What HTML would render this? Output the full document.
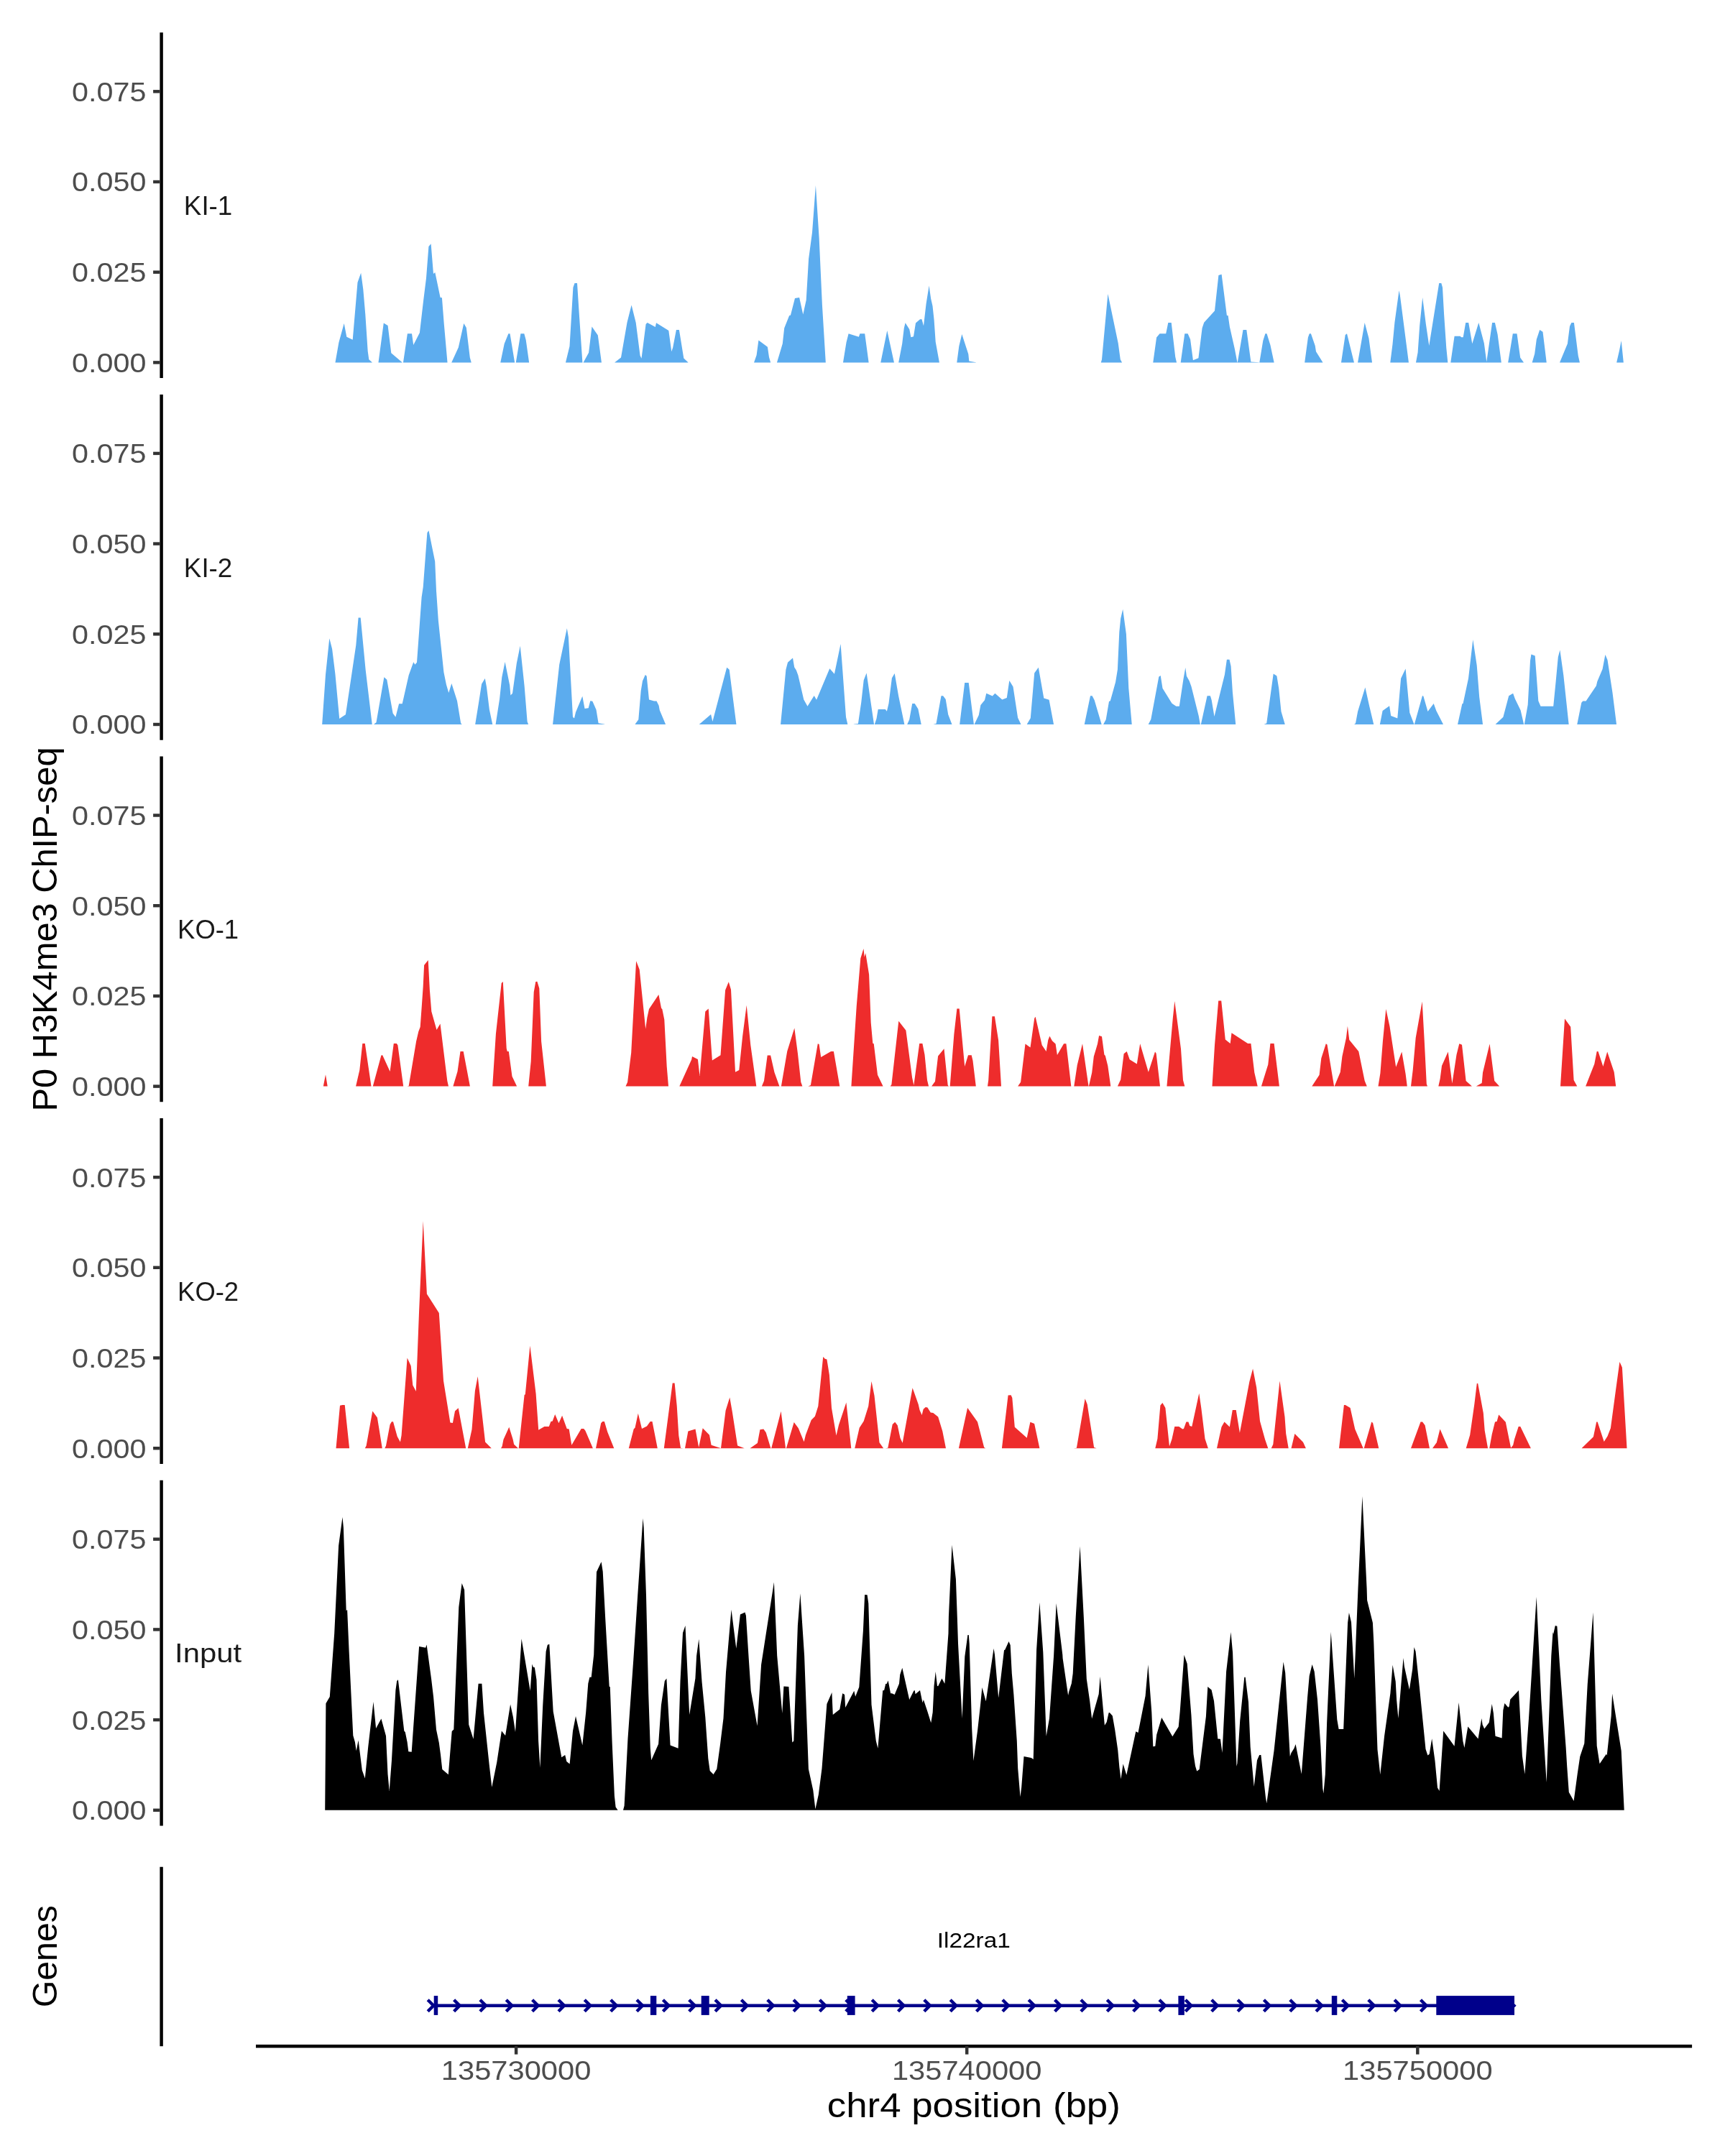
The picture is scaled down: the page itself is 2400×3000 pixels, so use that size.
<!DOCTYPE html>
<html lang="en"><head><meta charset="utf-8"><title>P0 H3K4me3 ChIP-seq – chr4 Il22ra1</title>
<style>
html,body{margin:0;padding:0;background:#fff;}
body{width:2400px;height:3000px;overflow:hidden;font-family:"Liberation Sans",sans-serif;}
svg{display:block;will-change:transform;}
text{font-family:"Liberation Sans",sans-serif;}
.tk{fill:#4D4D4D;font-size:37.8px;}
.st{fill:#1A1A1A;font-size:36.5px;}
.ti{fill:#000;font-size:48px;}
.gn{fill:#000;font-size:28.8px;}
.ax{stroke:#000;stroke-width:4.45;fill:none;}
.tc{stroke:#333;stroke-width:4.45;fill:none;}
</style></head><body>
<svg width="2400" height="3000" viewBox="0 0 2400 3000">
<rect width="2400" height="3000" fill="#fff"/>
<g id="track-KI-1">
<path fill="#5CACEE" d="M466.5,504.3L471.4,476.5L478.7,449.9L482.3,468.7L490.7,472.7L497.5,393.0L502.2,379.7L505.3,402.6L508.3,437.4L511.7,488.7L513.3,500.3L517.8,504.3L517.8,504.4L466.5,504.4ZM526.5,504.3L533.8,449.6L539.6,453.0L544.3,491.3L559.6,504.3L559.6,504.4L526.5,504.4ZM561.0,504.3L566.9,464.2L573.0,464.2L575.2,480.0L583.9,463.1L589.1,418.3L593.0,387.0L596.4,343.1L599.6,339.3L603.0,380.9L605.3,379.1L612.6,413.9L614.9,414.3L617.8,451.3L622.5,504.3L622.5,504.4L561.0,504.4ZM628.3,504.3L637.8,483.5L645.3,449.9L648.8,456.0L651.7,480.0L653.8,497.4L655.7,504.3L655.7,504.4L628.3,504.4ZM696.3,504.3L701.7,478.3L707.4,464.3L709.5,464.3L716.1,504.3L716.1,504.4L696.3,504.4ZM717.8,504.3L724.4,464.2L729.3,464.2L731.7,473.0L736.1,504.3L736.1,504.4L717.8,504.4ZM787.0,504.3L792.5,481.7L797.4,400.0L799.5,394.1L803.0,394.1L805.7,435.7L810.4,504.3L810.4,504.4L787.0,504.4ZM811.7,504.3L819.1,490.8L823.5,454.4L831.8,466.4L836.9,504.3L836.9,504.4L811.7,504.4ZM855.3,504.3L864.0,497.4L872.5,448.7L878.6,424.5L884.7,449.0L890.6,494.8L892.5,498.8L898.6,451.0L900.7,449.0L911.8,455.1L913.0,449.2L930.3,460.0L934.3,489.2L936.2,483.5L940.9,459.1L944.9,459.1L951.3,498.6L957.4,504.3L957.4,504.4L855.3,504.4ZM1049.1,504.3L1052.6,494.3L1055.4,473.6L1067.9,482.8L1070.0,496.9L1072.1,504.3L1072.1,504.4L1049.1,504.4ZM1081.0,504.3L1088.8,478.3L1091.2,456.5L1098.2,439.1L1099.9,438.8L1106.0,415.1L1112.1,413.9L1117.3,437.4L1121.7,417.4L1125.1,360.0L1130.0,323.5L1134.9,257.9L1139.6,330.4L1143.9,424.3L1148.8,504.3L1148.8,504.4L1081.0,504.4ZM1173.0,504.3L1177.5,476.5L1180.6,464.3L1194.9,468.7L1196.4,464.3L1203.2,464.3L1208.6,504.3L1208.6,504.4L1173.0,504.4ZM1225.3,504.3L1234.3,460.0L1243.9,504.3L1243.9,504.4L1225.3,504.4ZM1250.2,504.3L1255.2,478.3L1257.8,456.5L1259.6,449.2L1265.3,458.3L1267.4,469.2L1271.0,468.2L1274.0,449.6L1280.1,444.3L1282.5,444.3L1285.0,453.6L1288.6,422.6L1292.6,397.4L1295.2,415.7L1297.5,425.7L1299.6,445.2L1301.7,475.7L1306.9,504.3L1306.9,504.4L1250.2,504.4ZM1331.3,504.3L1334.3,481.7L1338.3,464.9L1347.3,492.7L1348.3,502.6L1357.9,504.3L1357.9,504.4L1331.3,504.4ZM1531.8,504.3L1533.0,500.3L1541.4,409.0L1555.7,477.4L1558.8,500.3L1561.0,504.3L1561.0,504.4L1531.8,504.4ZM1604.3,504.3L1609.1,469.6L1613.5,464.2L1622.2,464.2L1625.3,449.0L1629.7,449.0L1635.2,496.5L1637.0,504.3L1637.0,504.4L1604.3,504.4ZM1642.7,504.3L1648.3,464.2L1652.6,464.2L1656.1,472.2L1659.9,501.2L1667.4,498.3L1672.6,456.5L1675.2,448.7L1690.0,432.5L1695.4,383.1L1699.6,381.7L1706.9,439.1L1708.6,439.1L1710.9,454.8L1717.8,485.2L1721.3,503.5L1721.7,504.3L1721.7,504.4L1642.7,504.4ZM1721.8,504.3L1729.5,459.1L1734.3,459.1L1740.4,503.5L1751.7,504.3L1751.7,504.4L1721.8,504.4ZM1752.3,504.3L1757.3,473.9L1760.4,464.3L1762.5,464.3L1767.4,480.0L1772.6,504.3L1772.6,504.4L1752.3,504.4ZM1815.2,504.3L1819.9,469.6L1821.8,464.3L1823.9,464.3L1829.7,480.9L1831.0,489.2L1840.4,504.3L1840.4,504.4L1815.2,504.4ZM1866.0,504.3L1871.7,466.1L1874.0,464.2L1883.9,504.3L1883.9,504.4L1866.0,504.4ZM1889.1,504.3L1898.7,449.0L1904.4,470.4L1909.0,504.3L1909.0,504.4L1889.1,504.4ZM1934.3,504.3L1937.5,479.1L1940.4,448.7L1946.5,404.3L1947.9,411.3L1959.9,504.3L1959.9,504.4L1934.3,504.4ZM1970.0,504.3L1972.6,490.4L1975.2,453.0L1979.2,413.9L1983.9,451.3L1988.3,480.9L2002.2,394.1L2005.3,394.1L2007.0,400.0L2009.1,437.4L2012.3,484.3L2014.3,504.3L2014.3,504.4L1970.0,504.4ZM2018.3,504.3L2023.6,467.8L2031.7,467.8L2033.0,469.2L2035.7,469.2L2039.2,449.0L2043.2,449.0L2048.3,478.3L2057.3,449.0L2064.8,477.4L2068.3,503.5L2076.1,449.0L2079.9,449.0L2083.6,465.2L2088.8,504.3L2088.8,504.4L2018.3,504.4ZM2098.2,504.3L2104.8,464.2L2110.5,464.2L2115.2,497.7L2119.9,504.3L2119.9,504.4L2098.2,504.4ZM2131.7,504.3L2135.2,492.2L2137.8,472.2L2142.2,459.1L2146.5,461.7L2151.7,504.3L2151.7,504.4L2131.7,504.4ZM2170.1,504.3L2180.9,478.3L2184.0,453.9L2186.4,449.0L2189.9,449.0L2192.2,467.0L2195.7,494.8L2197.9,504.3L2197.9,504.4L2170.1,504.4ZM2249.2,504.3L2253.0,487.8L2255.7,473.9L2258.8,504.3L2258.8,504.4L2249.2,504.4Z"/>
</g>
<g id="track-KI-2">
<path fill="#5CACEE" d="M448.2,1007.7L453.0,938.7L458.3,888.3L462.1,903.0L466.4,937.8L472.2,1000.1L480.9,994.3L487.8,948.3L495.3,897.8L498.6,859.6L501.7,859.6L508.7,932.6L517.7,1007.7L517.7,1008.0L448.2,1008.0ZM520.3,1007.7L523.5,1005.3L534.4,942.2L538.3,945.7L546.6,992.6L550.4,997.8L555.1,979.2L559.7,979.2L568.7,939.6L575.3,921.3L577.4,924.8L580.0,921.8L586.6,830.9L588.7,817.0L594.4,741.3L596.5,738.3L605.2,781.3L607.0,822.2L609.9,863.9L617.4,935.2L620.9,952.6L624.3,963.9L628.3,950.9L636.0,975.2L641.2,1006.5L642.6,1007.7L642.6,1008.0L520.3,1008.0ZM661.2,1007.7L665.6,980.4L670.1,951.7L674.8,943.9L677.0,956.1L680.9,987.4L685.2,1007.7L685.2,1008.0L661.2,1008.0ZM689.6,1007.7L695.1,972.6L698.3,942.2L702.6,921.0L709.2,953.5L710.4,967.4L713.0,964.8L718.8,923.0L723.7,898.7L729.6,954.3L733.6,1003.9L735.0,1007.7L735.0,1008.0L689.6,1008.0ZM769.1,1007.7L778.2,924.8L788.8,874.3L790.9,886.5L797.0,997.8L799.0,999.6L801.0,990.9L810.3,968.8L813.5,986.0L818.7,985.3L821.3,975.2L824.3,975.7L829.5,987.4L832.6,1006.2L841.3,1007.7L841.3,1008.0L769.1,1008.0ZM883.6,1007.7L888.3,1001.3L891.7,961.3L894.0,947.4L897.8,939.0L899.7,940.8L903.0,973.5L910.0,975.6L913.5,975.6L916.6,981.8L917.8,988.3L926.0,1007.7L926.0,1008.0L883.6,1008.0ZM973.0,1007.7L989.1,994.0L991.4,1003.9L1011.2,928.8L1014.7,931.7L1024.4,1007.7L1024.4,1008.0L973.0,1008.0ZM1086.1,1007.7L1093.4,931.7L1096.0,921.7L1103.0,915.6L1105.2,928.6L1107.8,932.6L1110.4,939.6L1118.3,973.5L1123.5,982.7L1132.7,967.9L1136.0,973.8L1154.3,930.3L1160.9,937.8L1169.6,896.1L1171.7,924.8L1177.0,997.8L1179.3,1007.7L1179.3,1008.0L1086.1,1008.0ZM1187.8,1007.7L1193.9,1006.9L1198.3,977.0L1201.7,946.5L1205.6,936.4L1216.0,1007.7L1216.0,1008.0L1187.8,1008.0ZM1216.9,1007.7L1219.5,999.9L1221.7,987.0L1231.8,987.0L1233.9,989.7L1236.5,978.7L1240.9,943.6L1244.7,937.0L1250.1,968.3L1258.3,1007.7L1258.3,1008.0L1216.9,1008.0ZM1262.3,1007.7L1265.2,1001.3L1269.2,979.0L1272.7,979.0L1277.4,986.5L1281.7,1007.7L1281.7,1008.0L1262.3,1008.0ZM1299.0,1007.7L1302.5,1006.9L1309.5,968.3L1312.1,968.3L1315.7,973.1L1319.2,994.3L1324.4,1007.7L1324.4,1008.0L1299.0,1008.0ZM1335.2,1007.7L1342.2,950.0L1347.7,950.0L1354.9,1007.7L1354.9,1008.0L1335.2,1008.0ZM1355.7,1007.7L1361.8,994.9L1364.4,981.0L1370.0,974.3L1372.3,964.8L1380.8,968.6L1384.4,964.8L1394.3,973.5L1400.8,970.9L1404.3,946.9L1409.5,955.6L1416.1,998.7L1420.4,1007.7L1420.4,1008.0L1355.7,1008.0ZM1428.8,1007.7L1433.8,999.2L1439.2,936.4L1444.8,928.8L1452.3,971.4L1459.6,973.8L1466.0,1007.7L1466.0,1008.0L1428.8,1008.0ZM1508.8,1007.7L1517.0,968.3L1519.6,968.3L1522.7,974.3L1532.6,1007.7L1532.6,1008.0L1508.8,1008.0ZM1535.2,1007.7L1538.7,1001.3L1543.0,976.1L1544.8,975.2L1552.1,949.1L1554.9,931.7L1557.3,879.6L1559.2,860.4L1562.2,847.7L1566.9,882.2L1570.3,957.8L1574.7,1007.7L1574.7,1008.0L1535.2,1008.0ZM1597.8,1007.7L1601.3,1001.0L1612.3,941.7L1614.7,939.9L1617.5,957.8L1630.5,978.7L1636.4,982.7L1640.8,982.7L1646.5,944.8L1649.3,929.1L1650.9,940.8L1654.7,947.4L1657.5,955.2L1667.7,996.1L1669.8,1007.7L1669.8,1008.0L1597.8,1008.0ZM1670.9,1007.7L1679.6,968.3L1683.9,968.3L1685.7,974.3L1689.5,997.0L1703.9,938.7L1706.9,917.8L1710.5,917.8L1712.6,926.9L1714.9,963.0L1719.2,1007.7L1719.2,1008.0L1670.9,1008.0ZM1759.0,1007.7L1762.2,1006.5L1771.7,937.5L1776.4,940.4L1779.2,957.8L1782.5,990.0L1787.7,1007.7L1787.7,1008.0L1759.0,1008.0ZM1884.3,1007.7L1886.0,1006.5L1889.1,990.0L1899.4,956.6L1905.3,983.0L1911.2,1007.7L1911.2,1008.0L1884.3,1008.0ZM1919.9,1007.7L1923.6,989.1L1933.1,982.2L1935.2,996.1L1944.3,999.6L1949.1,943.9L1955.6,930.5L1961.3,991.7L1967.4,1007.7L1967.4,1008.0L1919.9,1008.0ZM1967.9,1007.7L1979.0,967.9L1980.4,968.8L1986.5,990.0L1994.7,979.0L1998.3,989.1L2007.9,1007.7L2007.9,1008.0L1967.9,1008.0ZM2028.1,1007.7L2034.3,979.6L2035.6,978.7L2043.0,943.9L2049.3,890.0L2054.7,925.7L2058.2,970.0L2063.0,1007.7L2063.0,1008.0L2028.1,1008.0ZM2080.8,1007.7L2091.4,997.8L2099.2,968.3L2105.1,964.8L2107.9,972.6L2115.6,988.3L2120.1,1007.7L2120.1,1008.0L2080.8,1008.0ZM2120.9,1007.7L2125.7,980.4L2129.0,919.6L2130.4,910.5L2135.7,912.6L2140.3,975.2L2143.5,982.7L2161.2,982.7L2164.7,947.4L2167.8,914.3L2170.4,904.4L2175.3,939.6L2182.6,1007.7L2182.6,1008.0L2120.9,1008.0ZM2194.3,1007.7L2200.3,977.8L2202.3,975.6L2206.6,975.6L2220.9,954.3L2222.3,948.3L2229.6,930.9L2233.4,910.9L2236.5,918.2L2243.5,963.9L2249.0,1007.7L2249.0,1008.0L2194.3,1008.0Z"/>
</g>
<g id="track-KO-1">
<path fill="#EE2C2C" d="M449.9,1511.6L450.1,1510.0L453.0,1495.2L455.7,1511.6L455.7,1511.6L449.9,1511.6ZM495.1,1511.6L500.3,1489.1L504.3,1452.1L507.8,1452.1L516.5,1511.6L516.5,1511.6L495.1,1511.6ZM518.8,1511.6L530.4,1468.6L532.2,1468.3L542.6,1490.9L547.8,1452.1L551.8,1452.1L553.4,1454.3L561.2,1511.6L561.2,1511.6L518.8,1511.6ZM566.4,1511.6L568.7,1510.9L579.1,1449.1L582.3,1435.2L584.7,1429.1L587.0,1397.0L588.7,1372.6L590.1,1343.0L595.7,1336.1L597.9,1377.8L600.3,1407.4L607.5,1433.1L612.5,1424.4L622.3,1503.9L624.0,1511.6L624.0,1511.6L566.4,1511.6ZM630.4,1511.6L636.5,1490.9L640.5,1463.0L644.7,1463.0L653.9,1511.6L653.9,1511.6L630.4,1511.6ZM685.2,1511.6L689.9,1438.7L697.7,1367.9L699.8,1366.0L704.7,1458.7L705.7,1463.0L707.8,1463.0L712.5,1497.8L719.1,1511.6L719.1,1511.6L685.2,1511.6ZM735.2,1511.6L738.7,1477.0L742.7,1380.4L745.3,1366.0L747.4,1365.7L750.3,1375.2L753.1,1449.1L759.9,1511.6L759.9,1511.6L735.2,1511.6ZM870.5,1511.6L873.1,1505.7L878.2,1464.8L885.1,1337.3L889.7,1349.1L898.2,1431.7L900.4,1416.1L903.0,1403.9L916.4,1383.9L920.1,1403.0L921.3,1403.9L924.3,1418.7L927.7,1483.9L930.0,1511.6L930.0,1511.6L870.5,1511.6ZM945.3,1511.6L962.2,1474.3L963.0,1470.0L970.9,1474.0L973.5,1497.0L981.3,1407.4L985.7,1403.6L990.9,1475.6L1002.5,1468.3L1009.1,1377.8L1013.8,1366.2L1017.0,1377.0L1023.0,1491.7L1028.3,1489.1L1033.1,1442.2L1038.7,1398.7L1044.3,1454.3L1052.3,1511.6L1052.3,1511.6L945.3,1511.6ZM1059.9,1511.6L1063.0,1503.9L1067.7,1468.6L1072.1,1468.6L1077.5,1492.3L1084.4,1511.6L1084.4,1511.6L1059.9,1511.6ZM1086.9,1511.6L1095.2,1463.0L1105.3,1430.5L1110.0,1466.5L1114.3,1505.7L1116.4,1511.6L1116.4,1511.6L1086.9,1511.6ZM1124.4,1511.6L1127.9,1510.0L1137.8,1452.3L1139.6,1453.0L1142.2,1470.9L1156.1,1463.0L1159.9,1463.0L1168.3,1511.6L1168.3,1511.6L1124.4,1511.6ZM1184.4,1511.6L1191.7,1400.4L1197.3,1333.5L1201.5,1319.9L1202.7,1331.7L1204.3,1326.2L1209.1,1356.1L1211.7,1423.0L1214.3,1451.7L1215.7,1452.3L1221.0,1495.7L1228.6,1511.6L1228.6,1511.6L1184.4,1511.6ZM1238.7,1511.6L1240.4,1509.1L1250.3,1420.8L1260.4,1433.8L1269.1,1499.6L1271.4,1510.0L1279.2,1452.1L1283.4,1452.1L1286.5,1467.4L1290.0,1503.0L1292.1,1511.6L1292.1,1511.6L1238.7,1511.6ZM1296.1,1511.6L1301.0,1504.8L1305.1,1469.5L1313.5,1459.2L1318.7,1510.0L1319.9,1511.6L1319.9,1511.6L1296.1,1511.6ZM1321.7,1511.6L1327.4,1438.7L1331.4,1403.6L1334.7,1403.6L1342.2,1483.9L1347.0,1468.3L1351.7,1468.3L1353.5,1476.1L1357.8,1511.6L1357.8,1511.6L1321.7,1511.6ZM1374.0,1511.6L1375.2,1503.0L1380.4,1414.3L1383.9,1414.3L1389.1,1447.4L1393.0,1511.6L1393.0,1511.6L1374.0,1511.6ZM1416.1,1511.6L1420.1,1505.7L1426.5,1452.6L1433.5,1457.5L1439.2,1417.0L1440.6,1414.7L1449.7,1454.3L1455.6,1463.0L1458.3,1446.9L1460.4,1441.8L1463.9,1448.3L1468.6,1452.6L1470.9,1467.9L1480.1,1452.3L1483.4,1452.3L1490.3,1511.6L1490.3,1511.6L1416.1,1511.6ZM1494.3,1511.6L1498.7,1482.2L1506.0,1452.3L1514.3,1510.0L1514.7,1511.6L1514.7,1511.6L1494.3,1511.6ZM1514.9,1511.6L1519.2,1492.6L1521.8,1470.0L1527.0,1452.6L1529.1,1441.0L1533.0,1442.2L1536.4,1467.4L1537.8,1469.1L1541.3,1483.0L1545.3,1511.6L1545.3,1511.6L1514.9,1511.6ZM1554.9,1511.6L1559.2,1502.2L1563.6,1466.2L1567.7,1463.0L1571.7,1474.3L1581.8,1480.4L1586.2,1452.3L1597.8,1491.7L1607.0,1463.4L1608.6,1465.7L1614.0,1511.6L1614.0,1511.6L1554.9,1511.6ZM1623.4,1511.6L1627.4,1466.5L1631.7,1417.8L1634.3,1393.1L1643.0,1459.6L1646.0,1503.0L1648.3,1511.6L1648.3,1511.6L1623.4,1511.6ZM1686.5,1511.6L1690.0,1454.3L1695.2,1392.6L1699.2,1392.6L1704.8,1446.5L1711.7,1452.1L1713.5,1437.3L1736.1,1452.1L1740.4,1452.1L1745.3,1492.6L1749.7,1511.6L1749.7,1511.6L1686.5,1511.6ZM1754.9,1511.6L1764.3,1481.3L1767.4,1452.1L1772.6,1452.1L1779.9,1511.6L1779.9,1511.6L1754.9,1511.6ZM1825.3,1511.6L1835.6,1495.7L1838.3,1472.6L1844.8,1452.3L1846.5,1453.5L1856.1,1511.6L1856.1,1511.6L1825.3,1511.6ZM1856.6,1511.6L1864.8,1491.7L1867.4,1470.0L1873.0,1443.9L1874.9,1427.7L1877.3,1446.9L1890.3,1463.0L1898.7,1503.9L1901.8,1511.6L1901.8,1511.6L1856.6,1511.6ZM1917.5,1511.6L1920.4,1493.5L1923.9,1449.1L1928.3,1403.9L1933.5,1428.3L1942.2,1484.8L1950.3,1463.4L1955.6,1494.3L1957.8,1511.6L1957.8,1511.6L1917.5,1511.6ZM1963.0,1511.6L1965.7,1489.1L1969.7,1443.9L1978.7,1393.5L1981.7,1447.4L1984.8,1508.3L1986.0,1511.6L1986.0,1511.6L1963.0,1511.6ZM2001.3,1511.6L2003.6,1501.3L2006.0,1483.0L2014.7,1463.6L2020.4,1507.4L2026.5,1467.4L2030.3,1452.3L2034.0,1453.8L2039.6,1503.9L2047.9,1511.6L2047.9,1511.6L2001.3,1511.6ZM2053.8,1511.6L2061.7,1506.9L2063.0,1492.6L2072.6,1452.6L2079.2,1503.9L2086.2,1511.6L2086.2,1511.6L2053.8,1511.6ZM2171.0,1511.6L2177.0,1417.5L2185.2,1428.8L2189.6,1503.0L2194.3,1511.6L2194.3,1511.6L2171.0,1511.6ZM2206.1,1511.6L2218.3,1480.4L2221.7,1463.0L2223.5,1463.0L2230.4,1483.9L2236.2,1463.4L2245.7,1491.7L2248.2,1511.6L2248.2,1511.6L2206.1,1511.6Z"/>
</g>
<g id="track-KO-2">
<path fill="#EE2C2C" d="M467.5,2015.2L473.0,1955.7L476.5,1954.9L479.7,1954.9L486.1,2015.2L486.1,2015.2L467.5,2015.2ZM507.8,2015.2L509.6,2011.7L518.3,1963.6L524.9,1972.6L531.8,2015.2L531.8,2015.2L507.8,2015.2ZM535.3,2015.2L537.0,2011.7L542.6,1982.2L544.9,1978.2L547.0,1978.3L552.7,1998.7L556.9,2006.5L558.6,1997.0L564.9,1912.6L566.6,1889.5L571.7,1900.4L574.3,1927.4L578.8,1936.1L583.1,1823.9L588.7,1699.0L593.9,1800.4L610.8,1827.0L617.0,1921.3L626.4,1979.6L629.9,1980.1L633.0,1963.6L637.7,1959.2L648.2,2015.2L648.2,2015.2L535.3,2015.2ZM650.8,2015.2L656.5,1989.1L660.9,1935.2L664.7,1915.2L675.1,2006.5L683.8,2015.2L683.8,2015.2L650.8,2015.2ZM697.0,2015.2L698.6,2012.6L700.5,2003.0L708.3,1985.7L713.6,2002.7L715.1,2009.7L720.9,2015.2L720.9,2015.2L697.0,2015.2ZM721.7,2015.2L729.6,1941.1L730.8,1940.2L737.4,1872.4L745.6,1939.3L749.2,1989.8L757.4,1984.9L763.8,1984.9L766.4,1978.1L768.7,1977.6L772.2,1968.0L777.4,1980.2L782.1,1969.8L788.7,1988.0L791.7,1988.6L795.3,2010.7L808.7,1988.0L812.2,1988.0L814.4,1990.7L824.9,2015.2L824.9,2015.2L721.7,2015.2ZM829.0,2015.2L836.2,1980.2L838.3,1978.1L840.9,1978.1L845.2,1992.4L854.3,2015.2L854.3,2015.2L829.0,2015.2ZM874.8,2015.2L881.7,1988.6L883.5,1986.8L887.8,1966.8L893.0,1988.0L900.0,1984.6L904.7,1978.1L907.5,1978.1L914.8,2015.2L914.8,2015.2L874.8,2015.2ZM923.8,2015.2L935.7,1924.6L938.6,1924.6L941.7,1955.9L944.3,1997.6L947.0,2014.7L950.4,2015.2L950.4,2015.2L923.8,2015.2ZM953.0,2015.2L957.4,1991.5L967.5,1988.6L972.2,2014.1L977.7,1987.2L987.0,1996.7L989.6,2010.7L1001.7,2014.7L1003.0,2015.2L1003.0,2015.2L953.0,2015.2ZM1003.0,2015.2L1009.6,1962.8L1015.3,1944.6L1018.8,1964.6L1026.1,2011.5L1035.7,2015.2L1035.7,2015.2L1003.0,2015.2ZM1043.5,2015.2L1053.9,2008.0L1057.4,1989.3L1062.3,1988.6L1065.7,1993.3L1072.2,2014.7L1073.0,2015.2L1073.0,2015.2L1043.5,2015.2ZM1073.2,2015.2L1086.6,1963.7L1093.0,2014.7L1093.6,2015.2L1093.6,2015.2L1073.2,2015.2ZM1093.9,2015.2L1104.7,1979.0L1110.8,1987.2L1118.6,2006.3L1120.9,1996.7L1128.7,1975.9L1133.9,1970.7L1138.3,1956.7L1145.2,1888.0L1147.8,1890.7L1150.4,1891.5L1153.9,1913.3L1157.0,1959.3L1163.5,1997.6L1167.0,1982.8L1177.4,1951.5L1184.3,2015.2L1184.3,2015.2L1093.9,2015.2ZM1189.2,2015.2L1195.7,1986.8L1201.7,1977.6L1208.2,1956.7L1212.5,1922.0L1216.5,1942.0L1223.5,2007.2L1229.2,2015.2L1229.2,2015.2L1189.2,2015.2ZM1231.8,2015.2L1235.3,2014.7L1241.7,1982.0L1245.2,1978.8L1248.7,1983.3L1252.5,2001.1L1255.7,2007.7L1269.6,1931.2L1277.7,1954.1L1279.5,1962.0L1282.6,1968.9L1284.7,1960.7L1287.8,1958.1L1290.4,1958.5L1294.8,1965.4L1298.3,1966.0L1305.2,1971.5L1311.3,1991.5L1316.0,2015.2L1316.0,2015.2L1231.8,2015.2ZM1333.9,2015.2L1346.1,1959.0L1360.0,1978.5L1369.2,2014.1L1371.3,2015.2L1371.3,2015.2L1333.9,2015.2ZM1393.9,2015.2L1402.6,1941.6L1406.6,1941.3L1408.3,1945.1L1411.8,1985.8L1428.7,2000.7L1433.4,1978.8L1439.1,1981.1L1446.4,2015.2L1446.4,2015.2L1393.9,2015.2ZM1493.9,2015.2L1497.9,2014.7L1509.6,1946.3L1512.7,1954.1L1522.1,2014.1L1525.7,2015.2L1525.7,2015.2L1493.9,2015.2ZM1607.3,2015.2L1610.4,2002.0L1614.4,1955.5L1617.4,1951.9L1621.4,1959.0L1627.0,2012.4L1630.4,2002.8L1634.3,1985.1L1640.3,1985.1L1645.2,1988.6L1647.0,1988.0L1650.4,1978.5L1653.4,1978.5L1655.3,1984.0L1658.3,1985.1L1668.3,1938.8L1671.3,1959.3L1676.5,2002.0L1680.9,2015.2L1680.9,2015.2L1607.3,2015.2ZM1693.0,2015.2L1699.5,1985.4L1703.5,1978.5L1710.8,1985.4L1714.8,1962.0L1719.7,1962.0L1724.9,1993.8L1738.3,1922.8L1743.1,1904.6L1748.2,1930.7L1753.0,1977.6L1760.0,2002.8L1764.3,2015.2L1764.3,2015.2L1693.0,2015.2ZM1768.7,2015.2L1771.3,2009.8L1780.5,1921.4L1787.5,1971.5L1789.2,1995.0L1792.7,2015.2L1792.7,2015.2L1768.7,2015.2ZM1796.5,2015.2L1801.4,1995.0L1813.0,2006.8L1816.9,2015.2L1816.9,2015.2L1796.5,2015.2ZM1863.0,2015.2L1869.9,1955.0L1871.8,1955.0L1878.6,1959.0L1885.2,1988.6L1896.5,2014.7L1897.0,2015.2L1897.0,2015.2L1863.0,2015.2ZM1897.7,2015.2L1908.3,1978.5L1910.1,1979.9L1918.3,2015.2L1918.3,2015.2L1897.7,2015.2ZM1963.0,2015.2L1976.5,1978.5L1979.1,1978.5L1982.6,1983.3L1989.0,2015.2L1989.0,2015.2L1963.0,2015.2ZM1993.0,2015.2L1998.8,2007.2L2003.5,1988.4L2015.1,2015.2L2015.1,2015.2L1993.0,2015.2ZM2039.7,2015.2L2045.2,1996.7L2051.3,1954.1L2054.8,1924.9L2056.2,1924.9L2063.8,1966.3L2065.7,1990.7L2070.1,2015.2L2070.1,2015.2L2039.7,2015.2ZM2072.2,2015.2L2075.7,1995.9L2080.0,1978.5L2082.6,1978.1L2085.2,1968.6L2094.8,1978.8L2102.1,2014.7L2105.2,2010.7L2107.0,2002.8L2112.7,1985.1L2115.3,1985.1L2129.9,2015.2L2129.9,2015.2L2072.2,2015.2ZM2200.5,2015.2L2216.9,1999.3L2221.2,1978.5L2222.6,1978.5L2231.7,2006.0L2236.5,1998.5L2240.9,1987.2L2247.8,1935.9L2253.4,1895.0L2256.9,1902.8L2263.5,2015.2L2263.5,2015.2L2200.5,2015.2Z"/>
</g>
<g id="track-Input">
<path fill="#000000" d="M452.2,2518.7L453.4,2370.2L458.8,2361.0L465.2,2272.8L471.1,2150.7L476.5,2111.1L477.9,2125.7L481.7,2241.5L483.1,2239.8L485.6,2297.2L491.3,2414.9L493.9,2424.1L495.7,2436.3L498.6,2421.5L503.8,2463.3L507.8,2474.6L512.2,2431.1L519.5,2368.1L523.1,2405.0L530.4,2391.4L537.0,2415.4L539.5,2468.5L541.7,2492.0L544.9,2450.2L550.4,2352.0L552.2,2338.9L553.9,2337.2L562.3,2408.5L563.8,2410.2L566.6,2424.1L568.3,2437.2L572.7,2437.7L583.1,2291.1L592.2,2292.8L593.6,2288.5L600.0,2335.4L603.1,2361.5L607.0,2406.7L610.8,2425.0L613.0,2441.5L615.3,2461.9L623.8,2469.3L628.7,2409.0L631.3,2406.4L638.3,2236.3L642.6,2202.9L646.1,2212.3L652.2,2399.8L658.6,2419.8L665.6,2342.7L670.4,2342.7L673.0,2383.3L680.9,2457.2L684.3,2486.7L691.3,2452.0L697.9,2408.5L703.1,2414.9L710.1,2371.6L713.9,2389.3L717.0,2409.9L725.6,2280.3L737.7,2352.8L740.4,2315.4L741.8,2319.8L743.9,2320.3L746.5,2337.2L749.1,2422.4L751.4,2459.8L755.2,2373.7L759.6,2298.0L761.8,2288.8L764.3,2287.8L769.7,2381.5L781.3,2445.3L786.2,2441.9L788.3,2451.1L792.6,2454.6L797.0,2408.5L801.0,2388.0L810.3,2428.5L815.2,2382.4L818.3,2342.4L820.4,2333.7L822.7,2333.7L826.2,2302.4L830.0,2187.3L836.6,2173.3L838.7,2186.7L842.2,2252.0L847.7,2346.7L848.8,2347.3L851.7,2425.9L854.9,2498.9L856.6,2514.6L859.6,2518.7L867.0,2518.7L868.6,2512.8L873.5,2418.9L881.3,2309.3L887.2,2220.0L894.5,2112.8L895.7,2125.7L899.0,2220.0L902.2,2356.3L904.8,2432.8L906.2,2449.3L916.1,2426.7L919.9,2372.8L924.8,2338.9L927.4,2335.4L932.6,2428.5L943.6,2432.8L946.5,2338.9L950.0,2272.0L953.5,2262.0L959.2,2385.9L967.4,2335.4L969.1,2304.1L972.3,2280.7L976.6,2340.7L981.3,2389.3L985.3,2446.7L987.7,2464.1L992.6,2469.0L997.3,2461.5L1002.2,2425.9L1006.5,2391.1L1010.0,2326.7L1017.5,2239.8L1024.3,2293.7L1029.9,2246.4L1036.5,2243.6L1037.9,2248.1L1041.7,2307.6L1044.7,2352.5L1053.6,2401.5L1059.1,2316.3L1076.9,2201.5L1081.2,2304.1L1088.3,2384.1L1090.4,2346.4L1097.4,2347.1L1102.3,2424.5L1104.3,2422.4L1109.9,2261.5L1113.4,2217.2L1119.1,2304.1L1122.3,2391.1L1124.9,2461.5L1131.3,2491.1L1134.4,2517.2L1138.8,2497.2L1143.5,2460.7L1150.4,2371.1L1157.4,2354.9L1158.8,2385.9L1168.3,2378.6L1172.2,2356.3L1175.1,2358.0L1176.2,2376.0L1188.3,2352.8L1190.1,2360.7L1195.3,2347.6L1200.9,2269.3L1203.1,2218.9L1206.6,2219.3L1208.3,2231.1L1212.5,2372.0L1218.8,2422.4L1221.4,2432.8L1228.2,2352.3L1230.1,2352.0L1232.2,2342.9L1233.6,2342.9L1235.7,2338.6L1239.1,2356.3L1240.9,2356.3L1244.7,2358.0L1251.0,2342.7L1252.2,2330.2L1255.3,2320.7L1265.2,2365.0L1271.3,2352.8L1272.7,2352.0L1273.6,2357.2L1280.0,2352.0L1283.5,2369.3L1284.9,2365.0L1290.4,2381.5L1295.3,2397.2L1297.7,2382.4L1299.5,2345.9L1301.7,2325.9L1304.0,2345.9L1305.2,2346.2L1310.4,2335.4L1314.4,2342.7L1319.5,2272.8L1319.9,2250.0L1324.5,2149.7L1329.9,2197.3L1331.8,2250.0L1333.0,2286.7L1338.6,2391.1L1342.3,2305.0L1346.4,2274.9L1347.8,2274.9L1348.7,2286.7L1352.2,2405.0L1354.4,2450.2L1360.0,2408.5L1364.0,2372.8L1366.4,2348.0L1371.7,2367.3L1382.6,2293.7L1384.0,2302.4L1389.2,2362.4L1397.0,2296.3L1398.3,2295.4L1403.5,2284.1L1405.7,2289.0L1407.8,2328.5L1410.4,2358.0L1414.8,2422.4L1416.2,2460.7L1419.5,2500.3L1421.2,2486.7L1424.5,2444.1L1434.8,2445.9L1437.7,2448.1L1439.1,2399.8L1442.1,2295.4L1446.4,2229.7L1451.3,2298.9L1455.7,2415.8L1460.0,2391.1L1466.1,2304.1L1469.6,2231.1L1478.3,2302.4L1478.6,2307.6L1486.1,2358.9L1487.5,2352.8L1490.8,2342.4L1492.7,2328.5L1496.7,2250.0L1502.6,2151.4L1507.8,2250.0L1511.8,2336.3L1516.2,2366.7L1519.1,2391.6L1528.7,2357.2L1530.6,2332.8L1536.9,2400.7L1539.7,2396.3L1542.6,2383.3L1543.8,2382.9L1547.8,2387.6L1551.3,2407.6L1555.3,2435.4L1557.4,2458.9L1559.5,2475.4L1562.6,2454.6L1567.3,2469.7L1573.0,2443.3L1580.3,2409.3L1583.5,2411.1L1593.6,2359.8L1597.4,2316.3L1602.3,2382.4L1604.3,2430.2L1607.3,2429.7L1609.2,2413.7L1616.2,2389.9L1631.3,2416.3L1639.7,2402.7L1641.7,2381.5L1647.5,2302.7L1651.7,2314.9L1657.4,2385.9L1660.5,2440.7L1663.0,2457.2L1665.2,2464.5L1668.7,2461.9L1677.9,2388.5L1680.3,2347.1L1685.6,2351.4L1689.0,2366.7L1694.3,2419.4L1697.9,2419.8L1700.5,2438.9L1706.1,2325.9L1712.5,2271.1L1715.1,2299.8L1720.5,2457.7L1721.4,2453.7L1725.2,2394.6L1731.3,2333.7L1732.7,2333.7L1737.0,2368.5L1739.7,2431.1L1744.7,2485.9L1749.0,2449.3L1752.2,2442.0L1754.4,2442.0L1760.9,2500.7L1762.3,2509.3L1772.5,2436.3L1785.6,2312.5L1788.2,2327.6L1794.8,2444.1L1796.5,2438.9L1800.5,2432.8L1802.6,2427.1L1810.8,2468.5L1819.1,2361.5L1821.7,2332.0L1825.6,2316.0L1828.7,2325.9L1833.0,2365.0L1837.4,2429.3L1840.3,2488.5L1841.4,2495.4L1843.8,2469.3L1846.1,2398.0L1851.7,2270.7L1860.3,2392.8L1862.6,2405.9L1869.2,2405.9L1875.1,2258.0L1876.9,2244.1L1880.0,2257.2L1884.3,2335.4L1889.5,2210.0L1895.4,2081.9L1901.6,2210.0L1902.1,2226.7L1909.9,2258.0L1911.3,2285.0L1916.5,2434.6L1920.3,2469.3L1926.1,2415.4L1934.4,2356.3L1937.6,2316.7L1941.7,2339.8L1943.1,2365.0L1945.4,2391.1L1952.5,2307.1L1953.9,2318.9L1960.9,2351.1L1965.2,2322.4L1967.5,2292.0L1969.6,2298.0L1974.8,2346.7L1983.5,2433.7L1986.4,2442.4L1988.7,2440.7L1992.2,2419.3L1996.5,2450.2L2000.0,2487.6L2002.6,2492.0L2008.2,2408.5L2023.5,2429.7L2029.6,2369.0L2035.3,2422.4L2037.4,2432.0L2042.3,2402.4L2056.5,2419.4L2061.4,2391.1L2062.6,2399.8L2065.2,2405.5L2071.8,2396.8L2075.7,2371.1L2077.9,2384.1L2080.5,2415.8L2089.6,2418.4L2091.3,2379.8L2093.4,2369.9L2098.3,2375.8L2099.7,2374.6L2101.2,2364.7L2113.0,2352.0L2117.9,2443.3L2121.4,2468.8L2127.0,2391.1L2137.7,2221.9L2144.3,2365.0L2151.7,2480.1L2158.3,2304.1L2160.5,2271.1L2161.2,2273.7L2163.8,2262.0L2166.4,2262.7L2169.9,2314.6L2178.6,2431.1L2180.3,2458.9L2182.8,2493.7L2189.6,2505.9L2194.8,2467.6L2198.3,2444.1L2204.3,2425.9L2208.7,2344.1L2216.5,2243.6L2221.7,2429.3L2225.6,2454.2L2234.8,2440.7L2235.7,2442.4L2241.7,2387.6L2243.1,2356.7L2255.7,2436.3L2259.7,2518.7L2259.7,2518.8L452.2,2518.8Z"/>
</g>
<g id="y-axes">
<line class="ax" x1="224.6" x2="224.6" y1="45.3" y2="526.1"/>
<line class="tc" x1="213.1" x2="222.475" y1="504.4" y2="504.4"/>
<text class="tk" x="203.4" y="517.8" text-anchor="end" textLength="103.3" lengthAdjust="spacingAndGlyphs">0.000</text>
<line class="tc" x1="213.1" x2="222.475" y1="378.7" y2="378.7"/>
<text class="tk" x="203.4" y="392.1" text-anchor="end" textLength="103.3" lengthAdjust="spacingAndGlyphs">0.025</text>
<line class="tc" x1="213.1" x2="222.475" y1="253.0" y2="253.0"/>
<text class="tk" x="203.4" y="266.4" text-anchor="end" textLength="103.3" lengthAdjust="spacingAndGlyphs">0.050</text>
<line class="tc" x1="213.1" x2="222.475" y1="127.3" y2="127.3"/>
<text class="tk" x="203.4" y="140.7" text-anchor="end" textLength="103.3" lengthAdjust="spacingAndGlyphs">0.075</text>
<text class="st" x="289.6" y="299.0" text-anchor="middle" textLength="67.5" lengthAdjust="spacingAndGlyphs">KI-1</text>
<line class="ax" x1="224.6" x2="224.6" y1="548.9" y2="1029.7"/>
<line class="tc" x1="213.1" x2="222.475" y1="1008.0" y2="1008.0"/>
<text class="tk" x="203.4" y="1021.4" text-anchor="end" textLength="103.3" lengthAdjust="spacingAndGlyphs">0.000</text>
<line class="tc" x1="213.1" x2="222.475" y1="882.3" y2="882.3"/>
<text class="tk" x="203.4" y="895.7" text-anchor="end" textLength="103.3" lengthAdjust="spacingAndGlyphs">0.025</text>
<line class="tc" x1="213.1" x2="222.475" y1="756.6" y2="756.6"/>
<text class="tk" x="203.4" y="770.0" text-anchor="end" textLength="103.3" lengthAdjust="spacingAndGlyphs">0.050</text>
<line class="tc" x1="213.1" x2="222.475" y1="630.9" y2="630.9"/>
<text class="tk" x="203.4" y="644.3" text-anchor="end" textLength="103.3" lengthAdjust="spacingAndGlyphs">0.075</text>
<text class="st" x="289.6" y="802.6" text-anchor="middle" textLength="67.5" lengthAdjust="spacingAndGlyphs">KI-2</text>
<line class="ax" x1="224.6" x2="224.6" y1="1052.5" y2="1533.3"/>
<line class="tc" x1="213.1" x2="222.475" y1="1511.6" y2="1511.6"/>
<text class="tk" x="203.4" y="1525.0" text-anchor="end" textLength="103.3" lengthAdjust="spacingAndGlyphs">0.000</text>
<line class="tc" x1="213.1" x2="222.475" y1="1385.9" y2="1385.9"/>
<text class="tk" x="203.4" y="1399.3" text-anchor="end" textLength="103.3" lengthAdjust="spacingAndGlyphs">0.025</text>
<line class="tc" x1="213.1" x2="222.475" y1="1260.2" y2="1260.2"/>
<text class="tk" x="203.4" y="1273.6" text-anchor="end" textLength="103.3" lengthAdjust="spacingAndGlyphs">0.050</text>
<line class="tc" x1="213.1" x2="222.475" y1="1134.5" y2="1134.5"/>
<text class="tk" x="203.4" y="1147.9" text-anchor="end" textLength="103.3" lengthAdjust="spacingAndGlyphs">0.075</text>
<text class="st" x="289.6" y="1306.2" text-anchor="middle" textLength="85" lengthAdjust="spacingAndGlyphs">KO-1</text>
<line class="ax" x1="224.6" x2="224.6" y1="1556.1" y2="2036.9"/>
<line class="tc" x1="213.1" x2="222.475" y1="2015.2" y2="2015.2"/>
<text class="tk" x="203.4" y="2028.6" text-anchor="end" textLength="103.3" lengthAdjust="spacingAndGlyphs">0.000</text>
<line class="tc" x1="213.1" x2="222.475" y1="1889.5" y2="1889.5"/>
<text class="tk" x="203.4" y="1902.9" text-anchor="end" textLength="103.3" lengthAdjust="spacingAndGlyphs">0.025</text>
<line class="tc" x1="213.1" x2="222.475" y1="1763.8" y2="1763.8"/>
<text class="tk" x="203.4" y="1777.2" text-anchor="end" textLength="103.3" lengthAdjust="spacingAndGlyphs">0.050</text>
<line class="tc" x1="213.1" x2="222.475" y1="1638.1" y2="1638.1"/>
<text class="tk" x="203.4" y="1651.5" text-anchor="end" textLength="103.3" lengthAdjust="spacingAndGlyphs">0.075</text>
<text class="st" x="289.6" y="1809.8" text-anchor="middle" textLength="85" lengthAdjust="spacingAndGlyphs">KO-2</text>
<line class="ax" x1="224.6" x2="224.6" y1="2059.7" y2="2540.5"/>
<line class="tc" x1="213.1" x2="222.475" y1="2518.8" y2="2518.8"/>
<text class="tk" x="203.4" y="2532.2" text-anchor="end" textLength="103.3" lengthAdjust="spacingAndGlyphs">0.000</text>
<line class="tc" x1="213.1" x2="222.475" y1="2393.1" y2="2393.1"/>
<text class="tk" x="203.4" y="2406.5" text-anchor="end" textLength="103.3" lengthAdjust="spacingAndGlyphs">0.025</text>
<line class="tc" x1="213.1" x2="222.475" y1="2267.4" y2="2267.4"/>
<text class="tk" x="203.4" y="2280.8" text-anchor="end" textLength="103.3" lengthAdjust="spacingAndGlyphs">0.050</text>
<line class="tc" x1="213.1" x2="222.475" y1="2141.7" y2="2141.7"/>
<text class="tk" x="203.4" y="2155.1" text-anchor="end" textLength="103.3" lengthAdjust="spacingAndGlyphs">0.075</text>
<text class="st" x="289.6" y="2313.4" text-anchor="middle" textLength="93" lengthAdjust="spacingAndGlyphs">Input</text>
</g>
<text class="ti" transform="translate(79.3,1293) rotate(-90)" text-anchor="middle" textLength="507" lengthAdjust="spacingAndGlyphs">P0 H3K4me3 ChIP-seq</text>
<text class="ti" transform="translate(79.3,2722.2) rotate(-90)" text-anchor="middle" textLength="142" lengthAdjust="spacingAndGlyphs">Genes</text>
<g id="genes">
<line class="ax" x1="224.6" x2="224.6" y1="2597.8" y2="2847.3"/>
<line x1="604.6" x2="2106" y1="2790.7" y2="2790.7" stroke="#00008B" stroke-width="4.45"/>
<path d="M595.2,2782.7L603.2,2790.7L595.2,2798.7M631.6,2782.7L639.6,2790.7L631.6,2798.7M667.9,2782.7L675.9,2790.7L667.9,2798.7M704.3,2782.7L712.3,2790.7L704.3,2798.7M740.6,2782.7L748.6,2790.7L740.6,2798.7M777.0,2782.7L785.0,2790.7L777.0,2798.7M813.3,2782.7L821.3,2790.7L813.3,2798.7M849.7,2782.7L857.7,2790.7L849.7,2798.7M886.0,2782.7L894.0,2790.7L886.0,2798.7M922.4,2782.7L930.4,2790.7L922.4,2798.7M958.7,2782.7L966.7,2790.7L958.7,2798.7M995.1,2782.7L1003.1,2790.7L995.1,2798.7M1031.4,2782.7L1039.4,2790.7L1031.4,2798.7M1067.8,2782.7L1075.8,2790.7L1067.8,2798.7M1104.1,2782.7L1112.1,2790.7L1104.1,2798.7M1140.4,2782.7L1148.4,2790.7L1140.4,2798.7M1176.8,2782.7L1184.8,2790.7L1176.8,2798.7M1213.2,2782.7L1221.2,2790.7L1213.2,2798.7M1249.5,2782.7L1257.5,2790.7L1249.5,2798.7M1285.8,2782.7L1293.8,2790.7L1285.8,2798.7M1322.2,2782.7L1330.2,2790.7L1322.2,2798.7M1358.5,2782.7L1366.5,2790.7L1358.5,2798.7M1394.9,2782.7L1402.9,2790.7L1394.9,2798.7M1431.2,2782.7L1439.2,2790.7L1431.2,2798.7M1467.6,2782.7L1475.6,2790.7L1467.6,2798.7M1503.9,2782.7L1511.9,2790.7L1503.9,2798.7M1540.3,2782.7L1548.3,2790.7L1540.3,2798.7M1576.7,2782.7L1584.7,2790.7L1576.7,2798.7M1613.0,2782.7L1621.0,2790.7L1613.0,2798.7M1649.3,2782.7L1657.3,2790.7L1649.3,2798.7M1685.7,2782.7L1693.7,2790.7L1685.7,2798.7M1722.1,2782.7L1730.1,2790.7L1722.1,2798.7M1758.4,2782.7L1766.4,2790.7L1758.4,2798.7M1794.8,2782.7L1802.8,2790.7L1794.8,2798.7M1831.1,2782.7L1839.1,2790.7L1831.1,2798.7M1867.4,2782.7L1875.4,2790.7L1867.4,2798.7M1903.8,2782.7L1911.8,2790.7L1903.8,2798.7M1940.2,2782.7L1948.2,2790.7L1940.2,2798.7M1976.5,2782.7L1984.5,2790.7L1976.5,2798.7M2098.5,2782.7L2106.5,2790.7L2098.5,2798.7" stroke="#00008B" stroke-width="4.45" fill="none" stroke-linejoin="miter"/>
<rect x="603.7" y="2777.1" width="5.5" height="26.8" fill="#00008B"/>
<rect x="904.9" y="2777.1" width="8.4" height="26.8" fill="#00008B"/>
<rect x="975.7" y="2777.1" width="11.0" height="26.8" fill="#00008B"/>
<rect x="1178.8" y="2777.1" width="10.8" height="26.8" fill="#00008B"/>
<rect x="1639.4" y="2777.1" width="8.4" height="26.8" fill="#00008B"/>
<rect x="1852.8" y="2777.1" width="7.5" height="26.8" fill="#00008B"/>
<rect x="1998.3" y="2777.1" width="108.7" height="26.8" fill="#00008B"/>
<text class="gn" x="1354.8" y="2710" text-anchor="middle" textLength="102" lengthAdjust="spacingAndGlyphs">Il22ra1</text>
</g>
<g id="x-axis">
<line class="ax" x1="356" x2="2354.1" y1="2847.2" y2="2847.2"/>
<line class="tc" x1="718.1" x2="718.1" y1="2847.2" y2="2858.6"/>
<text class="tk" x="718.1" y="2894.2" text-anchor="middle" textLength="208.5" lengthAdjust="spacingAndGlyphs">135730000</text>
<line class="tc" x1="1345.2" x2="1345.2" y1="2847.2" y2="2858.6"/>
<text class="tk" x="1345.2" y="2894.2" text-anchor="middle" textLength="208.5" lengthAdjust="spacingAndGlyphs">135740000</text>
<line class="tc" x1="1972.3" x2="1972.3" y1="2847.2" y2="2858.6"/>
<text class="tk" x="1972.3" y="2894.2" text-anchor="middle" textLength="208.5" lengthAdjust="spacingAndGlyphs">135750000</text>
<text class="ti" x="1354.8" y="2945.8" text-anchor="middle" textLength="408" lengthAdjust="spacingAndGlyphs">chr4 position (bp)</text>
</g>
</svg>
</body></html>
